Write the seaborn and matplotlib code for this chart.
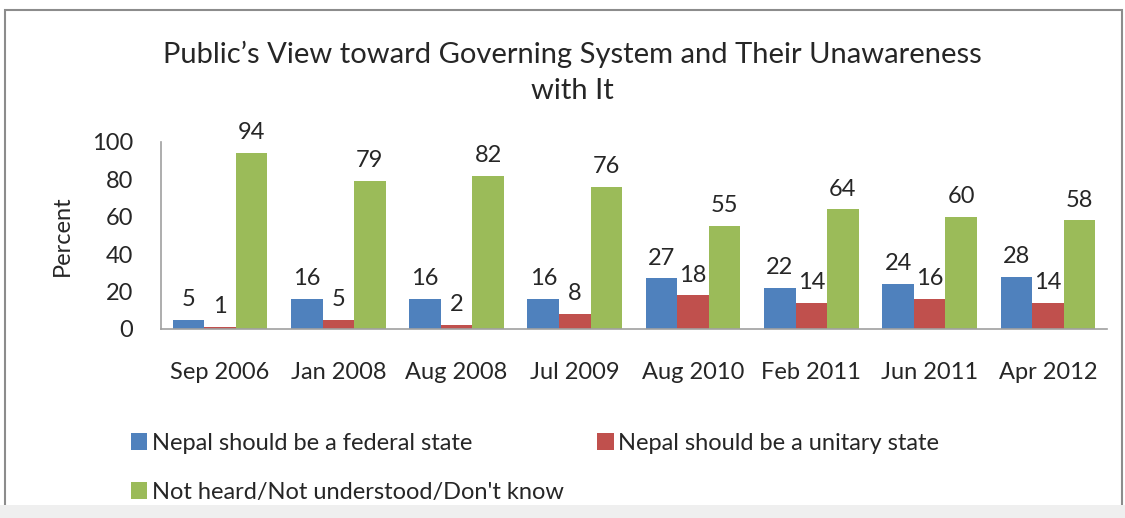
import matplotlib
matplotlib.use("Agg")
import matplotlib.pyplot as plt
import seaborn as sns
import pandas as pd
from matplotlib.patches import Rectangle

dates = ["Sep 2006", "Jan 2008", "Aug 2008", "Jul 2009", "Aug 2010", "Feb 2011", "Jun 2011", "Apr 2012"]
federal = [5, 16, 16, 16, 27, 22, 24, 28]
unitary = [1, 5, 2, 8, 18, 14, 16, 14]
unaware = [94, 79, 82, 76, 55, 64, 60, 58]
series = ["Nepal should be a federal state", "Nepal should be a unitary state",
          "Not heard/Not understood/Don't know"]
colors = ["#4F81BD", "#C0504D", "#9BBB59"]

rows = []
for name, vals in zip(series, [federal, unitary, unaware]):
    for d, v in zip(dates, vals):
        rows.append({"Date": d, "Series": name, "Value": v})
df = pd.DataFrame(rows)

sns.set_style("white")
plt.rcParams['font.family'] = ['Lato', 'DejaVu Sans']

fig = plt.figure(figsize=(11.25, 5.18), dpi=100)
ax = fig.add_axes([0.143, 0.365, 0.841, 0.361])

sns.barplot(data=df, x="Date", y="Value", hue="Series", palette=colors,
            hue_order=series, order=dates, width=0.8, saturation=1,
            edgecolor="none", ax=ax, legend=True)

for c in ax.containers:
    ax.bar_label(c, labels=[f"{v:.0f}" for v in c.datavalues], padding=7, fontsize=17)

ax.set_ylim(0, 100)
ax.set_xlim(-0.5, len(dates) - 0.5)
ax.set_yticks([0, 20, 40, 60, 80, 100])
ax.tick_params(axis="y", labelsize=17, length=0, pad=20)
ax.tick_params(axis="x", labelsize=17, length=0, pad=24)
ax.set_xlabel("")
ax.set_ylabel("Percent", fontsize=17, labelpad=14)
for s in ["top", "right"]:
    ax.spines[s].set_visible(False)
for s in ["left", "bottom"]:
    ax.spines[s].set_color("#A0A0A0")
    ax.spines[s].set_linewidth(1.2)

fig.text(0.509, 0.86, "Public\u2019s View toward Governing System and Their Unawareness\nwith It",
         ha="center", va="center", fontsize=21, linespacing=1.45)

handles, labels = ax.get_legend_handles_labels()
ax.legend_.remove()
order = [0, 2, 1]
fig.legend([handles[i] for i in order], [labels[i] for i in order],
           loc="upper left", bbox_to_anchor=(0.108, 0.183),
           ncol=2, frameon=False, fontsize=17, handlelength=0.7, handleheight=0.7,
           handletextpad=0.2, columnspacing=1.4, labelspacing=1.2, borderaxespad=0)

# outer frame
fig.patches.append(Rectangle((0.004, -0.01), 0.993, 0.99, transform=fig.transFigure,
                             fill=False, edgecolor="#8C8C8C", linewidth=1.5))
fig.patches.append(Rectangle((0.0, 0.0), 1.0, 0.025, transform=fig.transFigure,
                             facecolor="#EFEFEF", edgecolor="none"))

fig.savefig("out.png", dpi=100)
